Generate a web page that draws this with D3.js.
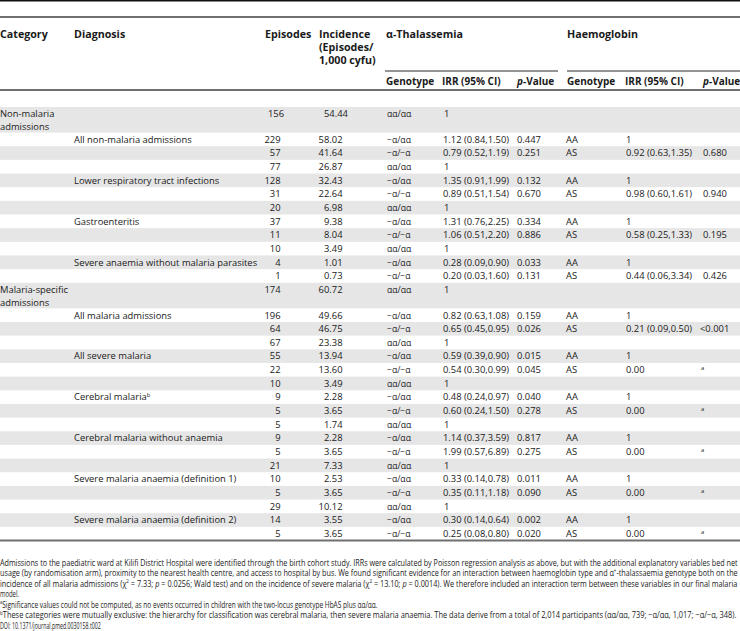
<!DOCTYPE html>
<html><head><meta charset="utf-8">
<script src="https://cdn.jsdelivr.net/npm/d3@7"></script>
<style>body{margin:0;background:#fff}svg{display:block}</style>
</head><body>
<script>
// ---------- DATA ----------
const categories = ["Non-malaria admissions","","","","","","","","","","","",
  "Malaria-specific admissions","","","","","","","","","","","","","","","","",""];
const diagnoses = ["","All non-malaria admissions","","","Lower respiratory tract infections","","","Gastroenteritis","","","Severe anaemia without malaria parasites","",
  "","All malaria admissions","","","All severe malaria","","","Cerebral malaria^b","","","Cerebral malaria without anaemia","","","Severe malaria anaemia (definition 1)","","","Severe malaria anaemia (definition 2)",""];
const episodes = [156,229,57,77,128,31,20,37,11,10,4,1,174,196,64,67,55,22,10,9,5,5,9,5,21,10,5,29,14,5];
const incidence = ["54.44","58.02","41.64","26.87","32.43","22.64","6.98","9.38","8.04","3.49","1.01","0.73",
  "60.72","49.66","46.75","23.38","13.94","13.60","3.49","2.28","3.65","1.74","2.28","3.65","7.33","2.53","3.65","10.12","3.55","3.65"];
const alphaGenotype = ["αα/αα","−α/αα","−α/−α","αα/αα","−α/αα","−α/−α","αα/αα","−α/αα","−α/−α","αα/αα","−α/αα","−α/−α",
  "αα/αα","−α/αα","−α/−α","αα/αα","−α/αα","−α/−α","αα/αα","−α/αα","−α/−α","αα/αα","−α/αα","−α/−α","αα/αα","−α/αα","−α/−α","αα/αα","−α/αα","−α/−α"];
const alphaIRR = ["1","1.12 (0.84,1.50)","0.79 (0.52,1.19)","1","1.35 (0.91,1.99)","0.89 (0.51,1.54)","1","1.31 (0.76,2.25)","1.06 (0.51,2.20)","1","0.28 (0.09,0.90)","0.20 (0.03,1.60)",
  "1","0.82 (0.63,1.08)","0.65 (0.45,0.95)","1","0.59 (0.39,0.90)","0.54 (0.30,0.99)","1","0.48 (0.24,0.97)","0.60 (0.24,1.50)","1","1.14 (0.37,3.59)","1.99 (0.57,6.89)","1","0.33 (0.14,0.78)","0.35 (0.11,1.18)","1","0.30 (0.14,0.64)","0.25 (0.08,0.80)"];
const alphaP = ["","0.447","0.251","","0.132","0.670","","0.334","0.886","","0.033","0.131",
  "","0.159","0.026","","0.015","0.045","","0.040","0.278","","0.817","0.275","","0.011","0.090","","0.002","0.020"];
const hbGenotype = ["","AA","AS","","AA","AS","","AA","AS","","AA","AS","","AA","AS","","AA","AS","","AA","AS","","AA","AS","","AA","AS","","AA","AS"];
const hbIRR = ["","1","0.92 (0.63,1.35)","","1","0.98 (0.60,1.61)","","1","0.58 (0.25,1.33)","","1","0.44 (0.06,3.34)",
  "","1","0.21 (0.09,0.50)","","1","0.00","","1","0.00","","1","0.00","","1","0.00","","1","0.00"];
const hbP = ["","","0.680","","","0.940","","","0.195","","","0.426","","","<0.001","","","^a","","","^a","","","^a","","","^a","","","^a"];

const headerMain = [["Category"],["Diagnosis"],["Episodes"],["Incidence","(Episodes/","1,000 cyfu)"],["α-Thalassemia"],["Haemoglobin"]];
const headerSub = ["Genotype","IRR (95% CI)","*p*-Value","Genotype","IRR (95% CI)","*p*-Value"];
const footnotes = [
 "Admissions to the paediatric ward at Kilifi District Hospital were identified through the birth cohort study. IRRs were calculated by Poisson regression analysis as above, but with the additional explanatory variables bed net",
 "usage (by randomisation arm), proximity to the nearest health centre, and access to hospital by bus. We found significant evidence for an interaction between haemoglobin type and α^+-thalassaemia genotype both on the",
 "incidence of all malaria admissions (χ^2 = 7.33; *p* = 0.0256; Wald test) and on the incidence of severe malaria (χ^2 = 13.10; *p* = 0.0014). We therefore included an interaction term between these variables in our final malaria",
 "model.",
 "^aSignificance values could not be computed, as no events occurred in children with the two-locus genotype HbAS plus αα/αα.",
 "^bThese categories were mutually exclusive: the hierarchy for classification was cerebral malaria, then severe malaria anaemia. The data derive from a total of 2,014 participants (αα/αα, 739; −α/αα, 1,017; −α/−α, 348).",
 "DOI: 10.1371/journal.pmed.0030158.t002"
];

// ---------- LAYOUT ----------
const W = 740, H = 631;
const FONT = "'Open Sans', sans-serif";
const BODY = 9.4, HEAD = 10.7, SUB = 10, FOOT = 8.6;
const INK = "#1a1a1a", RULE = "#707070", SHADE = "#e6e6e6";

const svg = d3.select("body").append("svg").attr("width", W).attr("height", H)
  .style("font-family", FONT);

// text with ^x superscripts and *italic*
function rich(sel, str, size) {
  const parts = str.split(/(\^.|\*[^*]+\*)/).filter(s => s.length);
  let raised = false;
  parts.forEach(p => {
    let ts;
    if (p[0] === "^") {
      ts = sel.append("tspan").attr("font-size", size * 0.62).attr("dy", -size * 0.38).text(p.slice(1));
      raised = true;
      return;
    }
    if (p[0] === "*") ts = sel.append("tspan").attr("font-style", "italic").text(p.slice(1, -1));
    else ts = sel.append("tspan").text(p);
    if (raised) { ts.attr("dy", size * 0.38); raised = false; }
  });
}

const n = episodes.length;
const units = categories.map(c => c ? 1.87 : 1);
const cum = [0]; units.forEach(u => cum.push(cum[cum.length - 1] + u));
const y = d3.scaleLinear().domain([0, cum[n]]).range([107, 540.5]);

const col = d3.scaleOrdinal()
  .domain(["cat","diag","ep","inc","ag","airr","ap","hg","hirr","hp"])
  .range([0, 74, 280.5, 342.5, 387, 443, 517, 566, 626, 703]);
const headX = [0, 74, 265, 319, 386, 567];
const subX = [386, 442, 517, 567, 625, 703];

// rules
function rule(x1, x2, yy, w, c) {
  svg.append("line").attr("x1", x1).attr("x2", x2).attr("y1", yy).attr("y2", yy)
    .attr("stroke", c).attr("stroke-width", w);
}
rule(0, W, 0.7, 1.4, "#111");
rule(0, W, 17, 2, RULE);
rule(0, W, 90, 2, RULE);
rule(385, 558, 71, 1.4, RULE);
rule(567, W, 71, 1.4, RULE);

// shading
svg.append("g").selectAll("rect").data(d3.range(n).filter(i => i % 2 === 0)).join("rect")
  .attr("x", 0).attr("width", W)
  .attr("y", i => y(cum[i])).attr("height", i => y(cum[i + 1]) - y(cum[i]))
  .attr("fill", SHADE);
rule(0, W, 540.5, 2, RULE);

// headers
headerMain.forEach((lines, k) => {
  lines.forEach((line, j) => {
    svg.append("text").attr("x", headX[k]).attr("y", 37.5 + 13 * j)
      .attr("font-size", HEAD).attr("font-weight", "bold").attr("fill", INK).text(line);
  });
});
headerSub.forEach((h, k) => {
  const t = svg.append("text").attr("x", subX[k]).attr("y", 85).attr("font-size", SUB)
    .attr("font-weight", "bold").attr("fill", INK);
  rich(t, h, SUB);
});

// body
const body = svg.append("g").attr("font-size", BODY).attr("fill", INK);
for (let i = 0; i < n; i++) {
  const base = y(cum[i]) + 10.2;
  if (categories[i]) {
    const w = categories[i].split(" ");
    body.append("text").attr("x", col("cat")).attr("y", base).text(w[0]);
    body.append("text").attr("x", col("cat")).attr("y", base + 13).text(w.slice(1).join(" "));
  }
  if (diagnoses[i]) rich(body.append("text").attr("x", col("diag")).attr("y", base), diagnoses[i], BODY);
  const first = i === 0;
  body.append("text").attr("x", first ? 268 : col("ep")).attr("y", base)
    .attr("text-anchor", first ? "start" : "end").text(episodes[i]);
  body.append("text").attr("x", first ? 324 : col("inc")).attr("y", base)
    .attr("text-anchor", first ? "start" : "end").text(incidence[i]);
  body.append("text").attr("x", col("ag")).attr("y", base).attr("font-size", BODY * 0.92).text(alphaGenotype[i]);
  body.append("text").attr("x", col("airr") + (alphaIRR[i] === "1" ? 1 : 0)).attr("y", base).text(alphaIRR[i]);
  if (alphaP[i]) body.append("text").attr("x", col("ap")).attr("y", base).text(alphaP[i]);
  if (hbGenotype[i]) body.append("text").attr("x", col("hg")).attr("y", base).text(hbGenotype[i]);
  if (hbIRR[i]) body.append("text").attr("x", col("hirr")).attr("y", base).text(hbIRR[i]);
  if (hbP[i]) {
    if (hbP[i][0] === "^") {
      body.append("text").attr("x", col("hp") - 2).attr("y", base - 3.5).attr("font-size", BODY * 0.62).text(hbP[i].slice(1));
    } else {
      body.append("text").attr("x", col("hp") - (hbP[i][0] === "<" ? 3 : 0)).attr("y", base).text(hbP[i]);
    }
  }
}

// footnotes
const footTargets = [738, 738, 738, 19, 378, 738, 101];
footnotes.forEach((f, k) => {
  const yy = 565.5 + k * 10.5;
  const t = svg.append("text").attr("x", 0).attr("y", 0).attr("font-size", FOOT).attr("fill", INK);
  rich(t, f, FOOT);
  const wNat = t.node().getComputedTextLength();
  const s = footTargets[k] / wNat;
  t.attr("transform", `translate(0,${yy}) scale(${s},1)`);
});
</script>
</body></html>
